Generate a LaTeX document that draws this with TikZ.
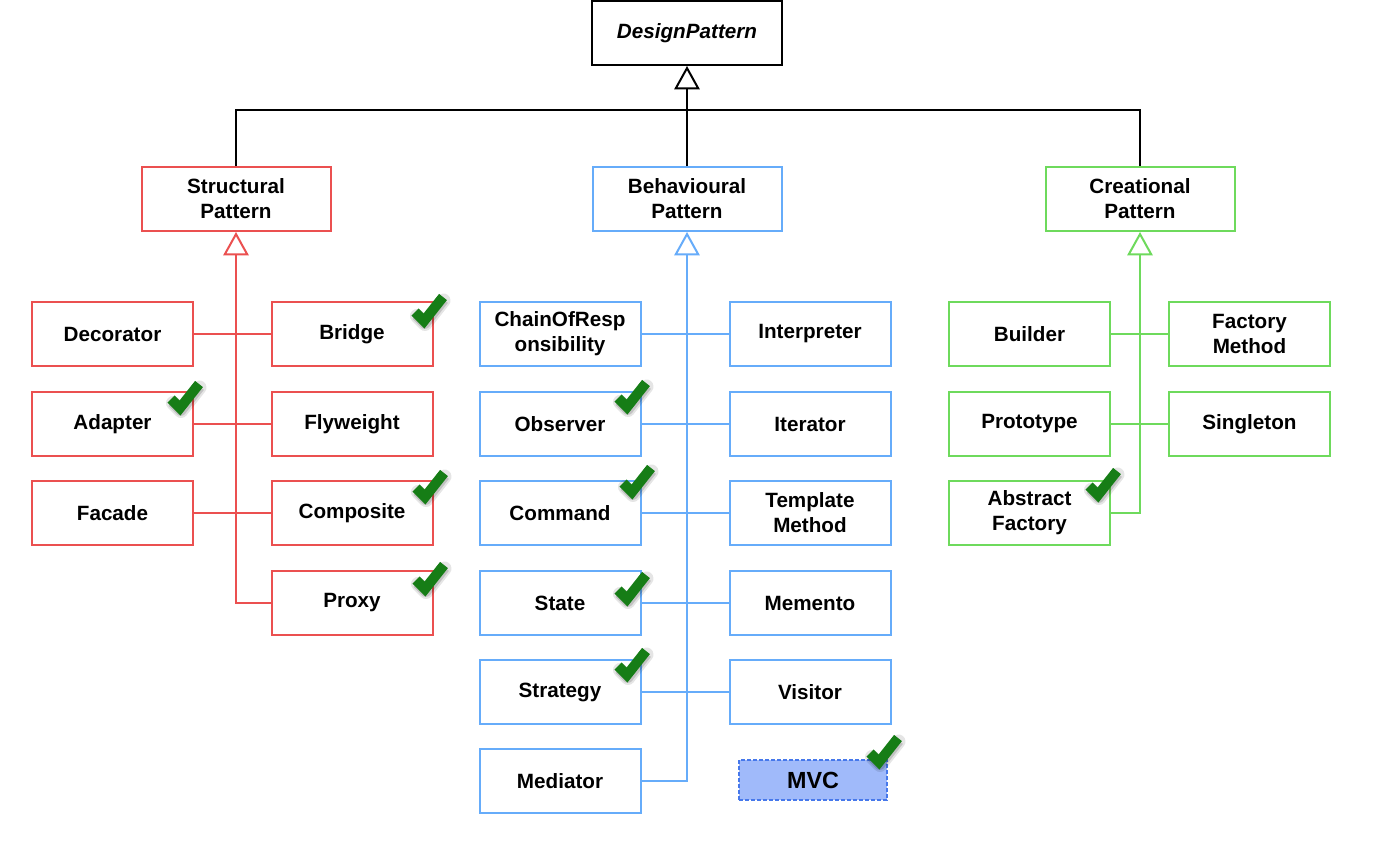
\documentclass[tikz,border=0pt]{standalone}
\usepackage{fontspec}
\setmainfont{Liberation Sans}
\usetikzlibrary{arrows.meta}
\newlength\pxu \setlength\pxu{0.75pt}
\definecolor{cred}{RGB}{235,80,80}
\definecolor{cblue}{RGB}{102,172,250}
\definecolor{cgreen}{RGB}{110,218,92}
\definecolor{checkg}{RGB}{22,125,22}
\definecolor{mvcf}{RGB}{160,186,250}
\definecolor{mvcb}{RGB}{70,120,235}
\tikzset{
  chk/.pic={
    \draw[black, opacity=.10, line width=14\pxu, line join=round, line cap=round] (-7,-5) -- (1,3) -- (19.5,-20.5);
    \draw[black, opacity=.15, line width=11\pxu, line join=round] (-7.5,-6) -- (0.8,2.4) -- (19.5,-21.5);
    \draw[checkg, line width=10\pxu, line join=miter] (-9,-9) -- (0,0) -- (19,-24);
  }
}
\begin{document}
\begin{tikzpicture}[x=0.75pt,y=-0.75pt,
  box/.style={draw, line width=1.5pt, fill=white, minimum width=161\pxu, minimum height=64\pxu,
    inner sep=0pt, align=center, text=black, font=\fontsize{15.5pt}{18.75pt}\selectfont\bfseries},
  big/.style={box, minimum width=189\pxu},
  gen/.style={-{Triangle[open,length=17.5pt,width=19pt]}, line width=1.5pt},
  conn/.style={line width=1.5pt},
  rbox/.style={box, draw=cred},
  bbox/.style={box, draw=cblue},
  gbox/.style={box, draw=cgreen}
]
\useasboundingbox[fill=white] (0,0) rectangle (1382,846);

% top
\node[big, draw=black, minimum width=190\pxu] (dp) at (687,33) {\itshape DesignPattern};
\node[big, draw=cred] (st) at (236,199) {Structural\\Pattern};
\node[big, draw=cblue] (be) at (687,199) {Behavioural\\Pattern};
\node[big, draw=cgreen] (cr) at (1140,199) {Creational\\Pattern};
\coordinate (bus) at (687,110);

% structural
\node[rbox] (dec) at (112.5,334) {Decorator};
\node[rbox] (bri) at (352,334) {Bridge};
\node[rbox] (ada) at (112.5,424) {Adapter};
\node[rbox] (fly) at (352,424) {Flyweight};
\node[rbox] (fac) at (112.5,513) {Facade};
\node[rbox] (com) at (352,513) {Composite};
\node[rbox] (pro) at (352,603) {Proxy};

% behavioural
\node[bbox] (cha) at (560,334) {ChainOfResp\\onsibility};
\node[bbox] (int) at (810,334) {Interpreter};
\node[bbox] (obs) at (560,424) {Observer};
\node[bbox] (ite) at (810,424) {Iterator};
\node[bbox] (cmd) at (560,513) {Command};
\node[bbox] (tem) at (810,513) {Template\\Method};
\node[bbox] (sta) at (560,603) {State};
\node[bbox] (mem) at (810,603) {Memento};
\node[bbox] (stg) at (560,692) {Strategy};
\node[bbox] (vis) at (810,692) {Visitor};
\node[bbox] (med) at (560,781) {Mediator};
\node[draw=mvcb, dash pattern=on 3pt off 1.5pt, fill=mvcf, line width=0.9pt, minimum width=148\pxu,
  minimum height=40\pxu, inner sep=0pt, text=black, font=\fontsize{17.5pt}{20pt}\selectfont\bfseries] (mvc) at (813,780) {MVC};

% creational
\node[gbox] (bui) at (1029.5,334) {Builder};
\node[gbox] (fme) at (1249.5,334) {Factory\\Method};
\node[gbox] (prt) at (1029.5,424) {Prototype};
\node[gbox] (sin) at (1249.5,424) {Singleton};
\node[gbox] (abf) at (1029.5,513) {Abstract\\Factory};

% top connectors
\draw[gen, draw=black] (be.north) -- (dp.south);
\draw[conn, draw=black] (st.north) |- (bus) -| (cr.north);

% structural connectors
\draw[gen, draw=cred] (pro.west) -| (st.south);
\draw[conn, draw=cred] (dec.east) -- (bri.west);
\draw[conn, draw=cred] (ada.east) -- (fly.west);
\draw[conn, draw=cred] (fac.east) -- (com.west);

% behavioural connectors
\draw[gen, draw=cblue] (med.east) -| (be.south);
\draw[conn, draw=cblue] (cha.east) -- (int.west);
\draw[conn, draw=cblue] (obs.east) -- (ite.west);
\draw[conn, draw=cblue] (cmd.east) -- (tem.west);
\draw[conn, draw=cblue] (sta.east) -- (mem.west);
\draw[conn, draw=cblue] (stg.east) -- (vis.west);

% creational connectors
\draw[gen, draw=cgreen] (abf.east) -| (cr.south);
\draw[conn, draw=cgreen] (bui.east) -- (fme.west);
\draw[conn, draw=cgreen] (prt.east) -- (sin.west);

% check marks
\pic at (424,321) {chk};
\pic at (180,408) {chk};
\pic at (425,497) {chk};
\pic at (425,589) {chk};
\pic at (627,407) {chk};
\pic at (632,492) {chk};
\pic at (627,599) {chk};
\pic at (627,675) {chk};
\pic at (879,762) {chk};
\pic at (1098,495) {chk};
\end{tikzpicture}
\end{document}
